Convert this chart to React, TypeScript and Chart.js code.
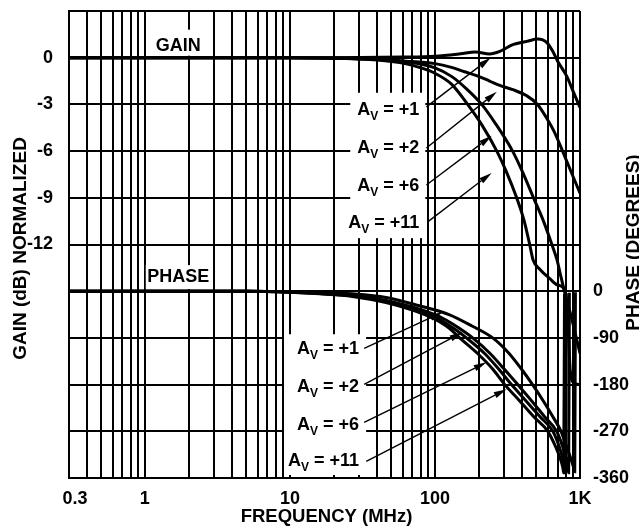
import { useEffect, useRef } from 'react';
import { Chart, registerables } from 'chart.js';

Chart.register(...registerables);

const FONT = '"Liberation Sans", Arial, Helvetica, sans-serif';

// ---- axis ticks ----
const freqGridTicks = [0.3, 0.4, 0.5, 0.6, 0.7, 0.8, 0.9, 1, 2, 3, 4, 5, 6, 7, 8, 9, 10, 20, 30, 40, 50, 60, 70, 80, 90, 100, 200, 300, 400, 500, 600, 700, 800, 900, 1000];
const freqLabelValues = [0.3, 1, 10, 100, 1000];
const freqLabelTexts = ['0.3', '1', '10', '100', '1K'];
const gainGridTicks = [-27, -24, -21, -18, -15, -12, -9, -6, -3, 0, 3];
const gainLabelValues = [0, -3, -6, -9, -12];
const phaseTickValues = [-360, -270, -180, -90, 0];

// ---- gain series (MHz, dB) ----
const gainFreqAv1 = [0.3, 1, 10, 30, 60, 100, 150, 190, 238, 280, 344, 430, 512, 591, 650, 705, 760, 813, 900, 1000];
const gainAv1 = [0, 0, 0, 0.01, 0.04, 0.1, 0.25, 0.36, 0.24, 0.4, 0.84, 1.05, 1.2, 0.97, 0.4, -0.26, -0.75, -1.22, -2.2, -3.2];
const gainFreqAv2 = [0.3, 1, 10, 20, 30, 63, 100, 130, 160, 194, 238, 280, 344, 430, 510, 591, 660, 728, 790, 857, 930, 1000];
const gainAv2 = [0, 0, 0, -0.03, -0.08, -0.22, -0.38, -0.62, -0.9, -1.15, -1.5, -1.78, -2.05, -2.45, -3.0, -3.9, -4.7, -5.6, -6.4, -7.2, -8.0, -8.7];
const gainFreqAv6 = [0.3, 1, 10, 20, 40, 63, 100, 130, 165, 210, 260, 343, 400, 478, 560, 640, 695, 740, 786, 857, 927, 1000];
const gainAv6 = [0, 0, 0, -0.03, -0.1, -0.25, -0.65, -1.2, -2.0, -3.0, -4.2, -6.0, -7.3, -9.0, -10.5, -12.0, -13.0, -14.1, -15.1, -16.4, -17.7, -19.0];
const gainFreqAv11 = [0.3, 1, 10, 20, 40, 60, 80, 100, 130, 168, 210, 267, 310, 366, 410, 450, 475, 530, 620, 700, 786, 830, 857, 909, 1000];
const gainAv11 = [0, 0, 0, -0.03, -0.15, -0.35, -0.65, -1.0, -1.7, -3.0, -4.3, -6.0, -7.3, -9.0, -10.4, -12.0, -13.0, -13.6, -14.2, -14.6, -14.95, -17.5, -20.1, -20.9, -21.0];

// ---- phase series (MHz, degrees) ----
const phaseFreqAv1 = [0.3, 5, 10, 16, 27, 46, 78, 125, 180, 250, 320, 390, 471, 560, 650, 740, 810, 870, 908, 920, 930];
const phaseAv1 = [0, 0, -1, -2, -5, -12, -28, -45, -67, -90, -118, -148, -180, -212, -242, -270, -300, -325, -342, -348, -2];
const phaseFreqAv2 = [0.3, 5, 10, 16, 27, 46, 100, 120, 148, 182, 240, 300, 372, 460, 570, 690, 760, 800, 825, 835, 845];
const phaseAv2 = [0, 0, -1.5, -4, -8, -18, -45, -56, -72, -90, -120, -150, -180, -210, -242, -270, -300, -322, -340, -350, -3];
const phaseFreqAv6 = [0.3, 5, 10, 16, 27, 46, 92, 110, 135, 165, 220, 275, 337, 420, 530, 650, 720, 760, 785, 795, 805];
const phaseAv6 = [0, 0, -1.8, -4.5, -9, -20, -45, -56, -72, -90, -120, -150, -180, -210, -242, -270, -300, -322, -340, -350, -4];
const phaseFreqAv11 = [0.3, 5, 10, 16, 27, 46, 85, 100, 125, 148, 200, 250, 303, 380, 480, 600, 680, 730, 762, 772, 782];
const phaseAv11 = [0, 0, -2, -5, -10, -22, -45, -54, -71, -90, -122, -150, -180, -210, -242, -270, -300, -322, -340, -350, -5];

// ---- annotations (data units) ----
const avLabels = ['+1', '+2', '+6', '+11'];
const gainLabelFreq = 78;
const gainLabelLevels = [-3.28, -5.73, -8.18, -10.5];
const phaseLabelFreq = 30;
const phaseLabelLevels = [-108, -181.5, -255, -324];
const gainArrowFrom = [[87.3, -3.16], [87.3, -5.8], [87.3, -8.18], [88.7, -10.56]];
const gainArrowTo = [[242, 0], [267, -2.19], [246, -5.02], [246, -7.4]];
const phaseArrowFrom = [[32.5, -110], [32.5, -179.6], [32.5, -253], [33.6, -328]];
const phaseArrowTo = [[113, -40.6], [155, -79.2], [227, -137], [312, -189]];
const gainTitlePos = [1.7, 0.87];
const phaseTitlePos = [1.7, 30];

const zip = (xs: number[], ys: number[]) => xs.map((x, i) => ({ x, y: ys[i] }));

const BIG = `bold 18px ${FONT}`;
const SMALL = `bold 12px ${FONT}`;

function avWidth(ctx: CanvasRenderingContext2D, suffix: string) {
  ctx.font = BIG;
  const wA = ctx.measureText('A').width;
  const wS = ctx.measureText(' = ' + suffix).width;
  ctx.font = SMALL;
  const wV = ctx.measureText('V').width;
  return { wA, wV, wS, total: wA + wV + wS };
}

function drawAv(ctx: CanvasRenderingContext2D, right: number, cy: number, suffix: string) {
  const m = avWidth(ctx, suffix);
  const x0 = right - m.total;
  const base = cy + 6.4;
  ctx.fillStyle = '#000';
  ctx.textAlign = 'left';
  ctx.textBaseline = 'alphabetic';
  ctx.font = BIG;
  ctx.fillText('A', x0, base);
  ctx.font = SMALL;
  ctx.fillText('V', x0 + m.wA, base + 5);
  ctx.font = BIG;
  ctx.fillText(' = ' + suffix, x0 + m.wA + m.wV, base);
}

function drawArrow(ctx: CanvasRenderingContext2D, x0: number, y0: number, x1: number, y1: number) {
  const ang = Math.atan2(y1 - y0, x1 - x0);
  const L = 13, W = 3.2;
  const bx = x1 - L * Math.cos(ang), by = y1 - L * Math.sin(ang);
  ctx.strokeStyle = '#000';
  ctx.lineWidth = 1.4;
  ctx.beginPath();
  ctx.moveTo(x0, y0);
  ctx.lineTo(bx, by);
  ctx.stroke();
  ctx.fillStyle = '#000';
  ctx.beginPath();
  ctx.moveTo(x1, y1);
  ctx.lineTo(bx + W * Math.sin(ang), by - W * Math.cos(ang));
  ctx.lineTo(bx - W * Math.sin(ang), by + W * Math.cos(ang));
  ctx.closePath();
  ctx.fill();
}

const annotPlugin = {
  id: 'annot',
  beforeDatasetsDraw(chart: any) {
    const ctx: CanvasRenderingContext2D = chart.ctx;
    const sx = chart.scales.x, sg = chart.scales.y, sp = chart.scales.y2;
    const area = chart.chartArea;
    ctx.save();
    ctx.font = BIG;
    const gx = sx.getPixelForValue(gainTitlePos[0]);
    const gy = sg.getPixelForValue(gainTitlePos[1]);
    const gw = ctx.measureText('GAIN').width;
    ctx.fillStyle = '#fff';
    ctx.fillRect(gx - gw / 2 - 6, gy - 14.5, gw + 12, 26);
    const px = sx.getPixelForValue(phaseTitlePos[0]);
    const py = sp.getPixelForValue(phaseTitlePos[1]);
    const pw = ctx.measureText('PHASE').width;
    ctx.fillRect(px - pw / 2 - 1.5, py - 10.5, pw + 3, 24);
    ctx.fillStyle = '#000';
    ctx.textAlign = 'center';
    ctx.textBaseline = 'alphabetic';
    ctx.fillText('GAIN', gx, gy + 6.4);
    ctx.fillText('PHASE', px, py + 6.4);

    const gr = sx.getPixelForValue(gainLabelFreq);
    const gys = gainLabelLevels.map((v) => sg.getPixelForValue(v));
    const w2 = avWidth(ctx, '+2').total;
    ctx.fillStyle = '#fff';
    ctx.fillRect(gr - w2 - 7, gys[0] - 16, w2 + 13, gys[3] - gys[0] + 33);
    avLabels.forEach((s, i) => drawAv(ctx, gr, gys[i], s));

    const pr = sx.getPixelForValue(phaseLabelFreq);
    const pys = phaseLabelLevels.map((v) => sp.getPixelForValue(v));
    const w11 = avWidth(ctx, '+11').total;
    ctx.fillStyle = '#fff';
    ctx.fillRect(pr - w11 - 4, pys[0] - 13, w11 + 11, area.bottom - 3 - (pys[0] - 13));
    avLabels.forEach((s, i) => drawAv(ctx, pr, pys[i], s));
    ctx.restore();
  },
  afterDatasetsDraw(chart: any) {
    const ctx: CanvasRenderingContext2D = chart.ctx;
    const sx = chart.scales.x, sg = chart.scales.y, sp = chart.scales.y2;
    ctx.save();
    gainArrowFrom.forEach((f, i) => {
      const t = gainArrowTo[i];
      drawArrow(ctx, sx.getPixelForValue(f[0]), sg.getPixelForValue(f[1]), sx.getPixelForValue(t[0]), sg.getPixelForValue(t[1]));
    });
    phaseArrowFrom.forEach((f, i) => {
      const t = phaseArrowTo[i];
      drawArrow(ctx, sx.getPixelForValue(f[0]), sp.getPixelForValue(f[1]), sx.getPixelForValue(t[0]), sp.getPixelForValue(t[1]));
    });
    ctx.restore();
  },
  afterDraw(chart: any) {
    const ctx: CanvasRenderingContext2D = chart.ctx;
    const area = chart.chartArea;
    const sx = chart.scales.x;
    ctx.save();
    ctx.fillStyle = '#000';
    ctx.textAlign = 'center';
    ctx.textBaseline = 'middle';
    ctx.font = `bold 18px ${FONT}`;
    // first frequency label sits slightly right of the axis corner
    ctx.fillText(freqLabelTexts[0], sx.getPixelForValue(freqLabelValues[0]) + 6, area.bottom + 21);
    ctx.textBaseline = 'alphabetic';
    ctx.font = `bold 18.5px ${FONT}`;
    ctx.fillText('FREQUENCY (MHz)', (area.left + area.right) / 2 + 2, chart.height - 4.5);
    ctx.font = `bold 19px ${FONT}`;
    const cy = (area.top + area.bottom) / 2;
    ctx.save();
    ctx.translate(25.8, cy + 4);
    ctx.rotate(-Math.PI / 2);
    ctx.fillText('GAIN (dB) NORMALIZED', 0, 0);
    ctx.restore();
    ctx.save();
    ctx.translate(638.5, cy - 2);
    ctx.rotate(-Math.PI / 2);
    ctx.fillText('PHASE (DEGREES)', 0, 0);
    ctx.restore();
    ctx.restore();
  },
};

const line = (data: { x: number; y: number }[], axis: string) => ({
  data,
  yAxisID: axis,
  borderColor: '#000',
  borderWidth: 3,
  pointRadius: 0,
  fill: false,
  cubicInterpolationMode: 'monotone' as const,
});

const noPadY = (w: number) => (s: any) => {
  s.width = w;
  s.paddingTop = 0;
  s.paddingBottom = 0;
};

export default function App() {
  const ref = useRef<HTMLCanvasElement | null>(null);
  useEffect(() => {
    if (!ref.current) return;
    const tickFont = { family: FONT, size: 18, weight: 'bold' as const };
    const chart = new Chart(ref.current, {
      type: 'line',
      data: {
        datasets: [
          line(zip(gainFreqAv1, gainAv1), 'y'),
          line(zip(gainFreqAv2, gainAv2), 'y'),
          line(zip(gainFreqAv6, gainAv6), 'y'),
          line(zip(gainFreqAv11, gainAv11), 'y'),
          line(zip(phaseFreqAv1, phaseAv1), 'y2'),
          line(zip(phaseFreqAv2, phaseAv2), 'y2'),
          line(zip(phaseFreqAv6, phaseAv6), 'y2'),
          line(zip(phaseFreqAv11, phaseAv11), 'y2'),
        ] as any,
      },
      options: {
        animation: false,
        responsive: true,
        maintainAspectRatio: false,
        layout: { padding: { top: 11, left: 0, right: 0, bottom: 0 } },
        plugins: { legend: { display: false }, tooltip: { enabled: false } },
        scales: {
          x: {
            type: 'logarithmic',
            min: 0.3,
            max: 1000,
            afterBuildTicks: (s: any) => {
              s.ticks = freqGridTicks.map((v) => ({ value: v }));
            },
            afterFit: (s: any) => {
              s.height = 48;
              s.paddingLeft = 0;
              s.paddingRight = 0;
            },
            ticks: {
              autoSkip: false,
              maxRotation: 0,
              padding: 10,
              color: '#000',
              font: tickFont,
              callback: (v: any) => {
                const i = freqLabelValues.findIndex((f) => Math.abs(f - Number(v)) < 1e-9);
                return i > 0 ? freqLabelTexts[i] : '';
              },
            },
            grid: { color: '#000', lineWidth: 2, drawTicks: false },
            border: { display: true, color: '#000', width: 2 },
          },
          y: {
            type: 'linear',
            position: 'left',
            min: -27,
            max: 3,
            afterBuildTicks: (s: any) => {
              s.ticks = gainGridTicks.map((v) => ({ value: v }));
            },
            afterFit: noPadY(69),
            ticks: {
              autoSkip: false,
              padding: 16,
              color: '#000',
              font: tickFont,
              callback: (v: any) => (gainLabelValues.includes(Number(v)) ? String(v) : ''),
            },
            grid: { color: '#000', lineWidth: 2, drawTicks: false },
            border: { display: true, color: '#000', width: 2 },
          },
          y2: {
            type: 'linear',
            position: 'right',
            min: -360,
            max: 540,
            afterBuildTicks: (s: any) => {
              s.ticks = phaseTickValues.map((v) => ({ value: v }));
            },
            afterFit: noPadY(59),
            ticks: {
              autoSkip: false,
              padding: 13,
              color: '#000',
              font: tickFont,
              callback: (v: any) => String(v),
            },
            grid: { display: false, drawTicks: false },
            border: { display: false },
          },
        },
      } as any,
      plugins: [annotPlugin],
    });
    return () => chart.destroy();
  }, []);
  return (
    <div style={{ position: 'fixed', left: 0, top: 0, width: 639, height: 526, background: '#fff' }}>
      <canvas ref={ref} />
    </div>
  );
}
